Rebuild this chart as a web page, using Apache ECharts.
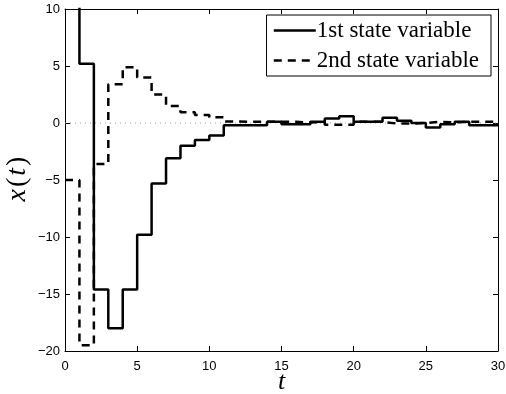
<!DOCTYPE html>
<html>
<head>
<meta charset="utf-8">
<script src="https://cdn.jsdelivr.net/npm/echarts@6/dist/echarts.min.js"></script>
<style>
  html, body { margin: 0; padding: 0; background: #fff; }
  #chart { width: 506px; height: 394px; }
</style>
</head>
<body>
<div id="chart"></div>
<script>
// sample times
const t = [0, 1, 2, 3, 4, 5, 6, 7, 8, 9, 10, 11, 12, 13, 14, 15, 16, 17, 18, 19, 20,
  21, 22, 23, 24, 25, 26, 27, 28, 29, 30];
// 1st state variable (first value goes off the top of the plot)
const state1 = [12, 5.2, -14.6, -18.0, -14.6, -9.8, -5.3, -3.1, -2.0, -1.5, -1.1, -0.2,
  -0.2, -0.2, 0.1, -0.1, -0.1, 0.1, 0.4, 0.6, 0.1, 0.1, 0.45, 0.2, 0.0, -0.4, -0.1,
  0.1, -0.2, -0.2, -0.2];
// 2nd state variable
const state2 = [-5.0, -19.5, -3.6, 3.4, 4.9, 4.0, 2.5, 1.5, 0.95, 0.7, 0.5, 0.13,
  0.1, 0.1, 0.1, 0.1, 0.05, 0.1, -0.15, -0.15, 0.1, 0.1, -0.05, -0.05, 0.0, 0.1,
  0.05, 0.1, 0.1, 0.1, 0.1];
const names = ['1st state variable', '2nd state variable'];

const chart = echarts.init(document.getElementById('chart'));

const pair = ys => t.map((x, i) => [x, ys[i]]);
const minus = v => String(v).replace('-', '\u2212');
const labelFont = { color: '#000', fontFamily: 'Liberation Sans', fontSize: 13 };
const box = { show: true, onZero: false, lineStyle: { color: '#000', width: 1 } };
const tick = { show: true, inside: true, length: 5, lineStyle: { color: '#000' } };

chart.setOption({
  animation: false,
  grid: { left: 65, right: 8, top: 9, bottom: 43, outerBoundsMode: 'none' },
  legend: {
    orient: 'vertical',
    right: 15,
    top: 15,
    padding: [4, 12, 4, 6],
    itemGap: 7,
    itemWidth: 42,
    itemHeight: 14,
    backgroundColor: '#fff',
    borderColor: '#000',
    borderWidth: 1,
    data: names,
    itemStyle: { opacity: 0 },
    lineStyle: { width: 2.5 },
    textStyle: { color: '#000', fontFamily: 'Liberation Serif', fontSize: 23, padding: [0, 0, 0, -4] }
  },
  xAxis: [
    {
      type: 'value', min: 0, max: 30, interval: 5,
      axisLine: box, axisTick: tick, splitLine: { show: false },
      axisLabel: Object.assign({ margin: 9 }, labelFont),
      name: 't', nameLocation: 'middle', nameGap: 18, nameMoveOverlap: false,
      nameTextStyle: {
        color: '#000', fontFamily: 'Liberation Serif', fontStyle: 'italic',
        fontWeight: 'normal', fontSize: 26
      }
    },
    {
      type: 'value', position: 'top', min: 0, max: 30, interval: 5,
      axisLine: box, axisTick: tick, axisLabel: { show: false }, splitLine: { show: false }
    }
  ],
  yAxis: [
    {
      type: 'value', min: -20, max: 10, interval: 5,
      axisLine: box, axisTick: tick, splitLine: { show: false },
      axisLabel: Object.assign({ margin: 5, formatter: minus }, labelFont),
      name: '{i|x}{n|(}{i|t}{n|)}', nameLocation: 'middle', nameGap: 33, nameMoveOverlap: false,
      nameTextStyle: {
        rich: {
          i: { color: '#000', fontFamily: 'Liberation Serif', fontStyle: 'italic', fontSize: 28, padding: [0, 2, 0, 2] },
          n: { color: '#000', fontFamily: 'Liberation Serif', fontSize: 28 }
        }
      }
    },
    {
      type: 'value', position: 'right', min: -20, max: 10, interval: 5,
      axisLine: box, axisTick: tick, axisLabel: { show: false }, splitLine: { show: false }
    }
  ],
  series: [
    {
      type: 'line', silent: true, symbol: 'none',
      data: [[0, 0], [30, 0]],
      lineStyle: { color: '#999', width: 1, type: [1, 4] }
    },
    {
      name: names[0], type: 'line', step: 'end', symbol: 'none', clip: true,
      data: pair(state1),
      lineStyle: { color: '#000', width: 2.5 },
      itemStyle: { color: '#000' }
    },
    {
      name: names[1], type: 'line', step: 'end', symbol: 'none', clip: true,
      data: pair(state2),
      lineStyle: { color: '#000', width: 2.5, type: [8, 6] },
      itemStyle: { color: '#000' }
    }
  ]
});
</script>
</body>
</html>
